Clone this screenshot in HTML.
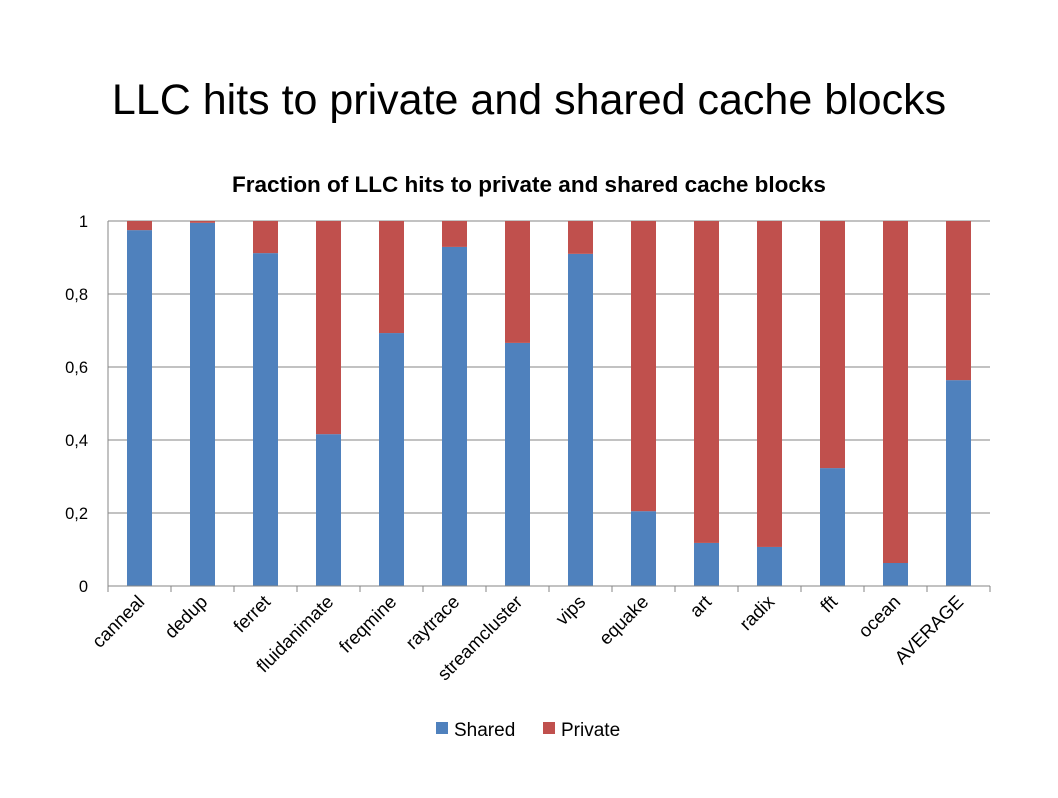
<!DOCTYPE html>
<html><head><meta charset="utf-8"><style>
body{margin:0;background:#fff;width:1058px;height:793px;overflow:hidden;font-family:"Liberation Sans","DejaVu Sans",sans-serif;}
</style></head><body>
<svg width="1058" height="793">
<text x="529" y="114" text-anchor="middle" font-size="43" fill="#000">LLC hits to private and shared cache blocks</text>
<text x="529" y="192" text-anchor="middle" font-size="22.5" font-weight="bold" fill="#000">Fraction of LLC hits to private and shared cache blocks</text>
<g id="grid"></g><g id="bars"></g><g id="axes"></g>
<g>
<rect x="436" y="722" width="12" height="12" fill="#4f81bd"/>
<text x="454" y="736" font-size="19">Shared</text>
<rect x="543" y="722" width="12" height="12" fill="#c0504d"/>
<text x="561" y="736" font-size="19">Private</text>
</g>
</svg>
<script>
const categories=["canneal","dedup","ferret","fluidanimate","freqmine","raytrace","streamcluster","vips","equake","art","radix","fft","ocean","AVERAGE"];
const shared=[0.975,0.995,0.912,0.416,0.693,0.929,0.666,0.910,0.205,0.118,0.107,0.323,0.063,0.564];
const tickValues=[0,0.2,0.4,0.6,0.8,1];
const tickLabels=["0","0,2","0,4","0,6","0,8","1"];
const NS="http://www.w3.org/2000/svg";
const x0=108,x1=990,y0=586,y1=221;
const step=(x1-x0)/categories.length;
const yS=v=>y0-(y0-y1)*v;
const xC=i=>x0+step*(i+0.5);
function mk(t,a,p){const e=document.createElementNS(NS,t);for(const k in a)e.setAttribute(k,a[k]);p.appendChild(e);return e;}
const grid=document.getElementById('grid'),bars=document.getElementById('bars'),axes=document.getElementById('axes');
tickValues.forEach((v,i)=>{
  const l=mk('line',{x1:x0,x2:x1,y1:yS(v),y2:yS(v),stroke:'#868686','stroke-width':1},grid);
  
  
  const t=mk('text',{x:x0-20,y:yS(v)+6,'text-anchor':'end','font-size':16.5},axes);
  t.textContent=tickLabels[i];
  
  
});
const bw=25;
categories.forEach((c,i)=>{
  const cx=xC(i);
  const s=mk('rect',{x:cx-bw/2,y:yS(shared[i]),width:bw,height:y0-yS(shared[i]),fill:'#4f81bd'},bars);
  
  
  const p=mk('rect',{x:cx-bw/2,y:yS(1),width:bw,height:yS(shared[i])-yS(1),fill:'#c0504d'},bars);
  
  
  const t=mk('text',{x:cx+6,y:603,'text-anchor':'end','font-size':18.5,transform:`rotate(-45 ${cx+6} 603)`},axes);
  t.textContent=c;
  
  
});
for(let i=0;i<=categories.length;i++){
  const x=x0+step*i;
  const tk=mk('line',{x1:x,x2:x,y1:y0,y2:y0+6,stroke:'#868686'},axes);
  
  
}
const ya=mk('line',{x1:x0,x2:x0,y1:y1,y2:y0,stroke:'#868686'},axes);


const xa=mk('line',{x1:x0,x2:x1,y1:y0,y2:y0,stroke:'#868686'},axes);


</script>
</body></html>
